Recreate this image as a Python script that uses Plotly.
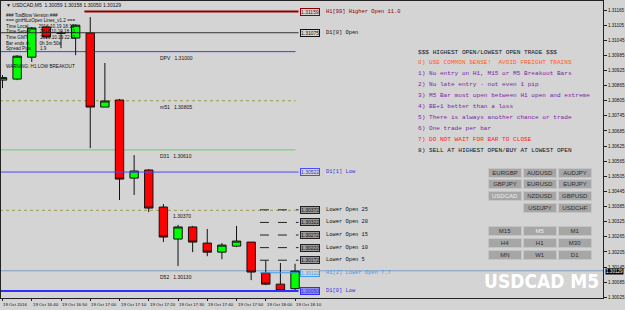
import plotly.graph_objects as go

# ---------------- data ----------------
bar_times = ["16:30", "16:35", "16:40", "16:45", "16:50", "16:55", "17:00", "17:05", "17:10", "17:15",
             "17:20", "17:25", "17:30", "17:35", "17:40", "17:45", "17:50", "17:55", "18:00", "18:05", "18:10"]
opens = [1.30887, 1.30891, 1.30978, 1.31098, 1.31074, 1.31054, 1.31074, 1.30780, 1.30808, 1.30498,
         1.30530, 1.30383, 1.30256, 1.30304, 1.30240, 1.30204, 1.30228, 1.30244, 1.30121, 1.30077, 1.30059]
highs = [1.30907, 1.30986, 1.31098, 1.31101, 1.31082, 1.31109, 1.31137, 1.30955, 1.30812, 1.30589,
         1.30534, 1.30395, 1.30312, 1.30308, 1.30296, 1.30240, 1.30308, 1.30244, 1.30172, 1.30161, 1.30158]
lows = [1.30855, 1.30887, 1.30959, 1.31054, 1.31014, 1.30986, 1.30617, 1.30780, 1.30411, 1.30431,
        1.30363, 1.30244, 1.30149, 1.30204, 1.30188, 1.30176, 1.30224, 1.30093, 1.30073, 1.30050, 1.30050]
closes = [1.30897, 1.30982, 1.31094, 1.31058, 1.31073, 1.31105, 1.30780, 1.30804, 1.30494, 1.30526,
          1.30379, 1.30264, 1.30304, 1.30244, 1.30204, 1.30232, 1.30248, 1.30125, 1.30077, 1.30052, 1.30129]

time_labels = ["19 Oct 2016", "19 Oct 16:40", "19 Oct 16:50", "19 Oct 17:00", "19 Oct 17:10", "19 Oct 17:20",
               "19 Oct 17:30", "19 Oct 17:40", "19 Oct 17:50", "19 Oct 18:00", "19 Oct 18:10"]

price_ticks = [1.31165 - 0.0006 * k for k in range(20)]

# level lines drawn by the HiLoOpen indicator
level_names = ["H1[99] Higher Open 11.0", "D1[0] Open", "D1[1] Low", "Lower Open 25", "Lower Open 20",
               "Lower Open 15", "Lower Open 10", "Lower Open 5", "H1[2] Lower Open 7.7", "D1[0] Low"]
level_prices = [1.31159, 1.31075, 1.30522, 1.30372, 1.30322, 1.30272, 1.30222, 1.30172, 1.30122, 1.30050]
level_start_bar = [5.6, -1, -1, 17.6, 17.6, 17.6, 17.6, 17.6, 17.6, -1]

# pivot lines
pivot_names = ["DPV", "m51", "D31", "", "D52"]
pivot_prices = [1.31000, 1.30805, 1.30610, 1.30370, 1.30130]
pivot_full_width = [False, False, False, False, True]

rules = ["$$$ HIGHEST OPEN/LOWEST OPEN TRADE $$$",
         "0) USE COMMON SENSE!  AVOID FREIGHT TRAINS",
         "1) No entry on H1, M15 or M5 Breakout Bars",
         "2) No late entry - not even 1 pip",
         "3) M5 Bar must open between H1 open and extreme",
         "4) BE+1 better than a loss",
         "5) There is always another chance or trade",
         "6) One trade per bar",
         "7) DO NOT WAIT FOR BAR TO CLOSE",
         "8) SELL AT HIGHEST OPEN/BUY AT LOWEST OPEN"]

info_lines = ["### TosBlow Version ###", "=== gmHiLoOpen Lines_v1.2 ===",
              "Time Local        2016.10.19 18:13", "Time Server       2016.10.19 18:11",
              "Time GMT          2016.10.19 22:11", "Bar ends in        0h 3m 50s", "Spread Pips       1.9"]

symbols = [["EURGBP", "AUDUSD", "AUDJPY"], ["GBPJPY", "EURUSD", "EURJPY"],
           ["USDCAD", "NZDUSD", "GBPUSD"], ["", "USDJPY", "USDCHF"]]
periods = [["M15", "M5", "M1"], ["H4", "H1", "M30"], ["MN", "W1", "D1"]]

# ---------------- layout helpers ----------------
W, H = 625, 310
PL, PR, PT, PB = 0, 605, 1, 298          # plot area in pixels
BAR = 14.7
X0 = 1.5
BG = "#d4d4d4"


def xi(px):          # pixel -> bar index
    return (px - X0) / BAR


def xp(px):          # pixel -> paper x
    return (px - PL) / (PR - PL)


def yp(py):          # pixel -> paper y
    return (PB - py) / (PB - PT)


idx = list(range(len(bar_times)))
ymin, ymax = 1.30022, 1.31201

fig = go.Figure()
fig.add_trace(go.Candlestick(
    x=idx, open=opens, high=highs, low=lows, close=closes,
    increasing=dict(fillcolor="#00ff00", line=dict(color="#111111", width=1)),
    decreasing=dict(fillcolor="#ff0000", line=dict(color="#111111", width=1)),
    whiskerwidth=0, showlegend=False, hoverinfo="skip"))

shapes = []
ann = []

# pivot lines
piv_style = [("#3c3cff", "solid", 1), ("#9a9a50", "dot", 1), ("#6ccf6c", "solid", 1),
             ("#9a9a50", "dot", 1), ("#7f9cc0", "solid", 1)]
for name, pr, full, st in zip(pivot_names, pivot_prices, pivot_full_width, piv_style):
    shapes.append(dict(type="line", xref="x", yref="y", x0=xi(-1), x1=xi(PR + 2 if full else 296),
                       y0=pr, y1=pr, line=dict(color=st[0], dash=st[1], width=st[2]), layer="below"))
    txt = (name + "   " if name else "") + "%.5f" % pr
    ann.append(dict(x=xi(158 if name else 171), y=pr, xref="x", yref="y", text=txt, showarrow=False,
                    xanchor="left", yanchor="top", yshift=-1,
                    font=dict(family="Liberation Sans", size=5, color="#111111")))

# indicator level lines
lvl_style = [("#8b0000", "solid", 2, "#8b0000", "#d4d4d4", "#8b0000"),
             ("#333333", "solid", 1, "#111111", "#d4d4d4", "#111111"),
             ("#4a4aff", "solid", 1, "#4a4aff", "#d4d4d4", "#3535d0"),
             ("#222222", "dash", 1, "#222222", "#9a9a9a", "#111111"),
             ("#222222", "dash", 1, "#222222", "#9a9a9a", "#111111"),
             ("#222222", "dash", 1, "#222222", "#9a9a9a", "#111111"),
             ("#222222", "dash", 1, "#222222", "#9a9a9a", "#111111"),
             ("#222222", "dash", 1, "#222222", "#9a9a9a", "#111111"),
             ("#3d9cf0", "solid", 1, "#3d9cf0", "#d4d4d4", "#3d9cf0"),
             ("#2f2fff", "solid", 2, "#2f2fff", "#8c8cf0", "#3030e0")]
for name, pr, sb, st in zip(level_names, level_prices, level_start_bar, lvl_style):
    shapes.append(dict(type="line", xref="x", yref="y", x0=sb, x1=xi(299), y0=pr, y1=pr,
                       line=dict(color=st[0], dash=st[1], width=st[2])))
    ann.append(dict(x=xi(300), y=pr, xref="x", yref="y", text="%.5f" % pr, showarrow=False,
                    xanchor="left", yanchor="middle", bgcolor=st[4], bordercolor=st[3], borderwidth=1,
                    borderpad=0, font=dict(family="Liberation Sans", size=5, color=st[5])))
    ann.append(dict(x=xi(325), y=pr, xref="x", yref="y", text=name, showarrow=False,
                    xanchor="left", yanchor="middle",
                    font=dict(family="Liberation Mono", size=5.4, color=st[5])))

# title / info text
ann.append(dict(x=xp(3), y=yp(5), xref="paper", yref="paper", showarrow=False, xanchor="left",
                yanchor="middle", text="\u25bc USDCAD,M5  %.5f %.5f %.5f %.5f" % (opens[-1], highs[-1], lows[-1], closes[-1]),
                font=dict(family="Liberation Sans", size=5, color="#111111")))
for k, line in enumerate(info_lines):
    ann.append(dict(x=xp(3), y=yp(15 + 5.6 * k), xref="paper", yref="paper", showarrow=False,
                    xanchor="left", yanchor="middle", text=line,
                    font=dict(family="Liberation Sans", size=4.6, color="#111111")))
ann.append(dict(x=xp(3), y=yp(66), xref="paper", yref="paper", showarrow=False, xanchor="left",
                yanchor="middle", text="WARNING: H1 LOW BREAKOUT",
                font=dict(family="Liberation Sans", size=4.6, color="#111111")))

rule_colors = ["#111111", "#ff5a28", "#7a1fa8", "#7a1fa8", "#7a1fa8", "#7a1fa8", "#7a1fa8", "#7a1fa8",
               "#ff2020", "#111111"]
for k, (line, c) in enumerate(zip(rules, rule_colors)):
    ann.append(dict(x=xp(417), y=yp(52 + 10.9 * k), xref="paper", yref="paper", showarrow=False,
                    xanchor="left", yanchor="middle", text=line,
                    font=dict(family="Liberation Mono", size=6.1, color=c)))

# buttons
col_x = [489, 525, 560]
sym_y = [172.5, 184, 196, 208]
per_y = [231, 243, 254.5]
for rows, ys, sel in ((symbols, sym_y, "USDCAD"), (periods, per_y, "M5")):
    for r, yy in zip(rows, ys):
        for lab, xx in zip(r, col_x):
            if not lab:
                continue
            ann.append(dict(x=xp(xx), y=yp(yy), xref="paper", yref="paper", showarrow=False,
                            xanchor="left", yanchor="middle", text=lab, width=32, height=8,
                            bgcolor="#a6a6a6", bordercolor="#c4c4c4", borderwidth=1, borderpad=0,
                            font=dict(family="Liberation Sans", size=6,
                                      color="#f0f0f0" if lab == sel else "#303030")))

# watermark
ann.append(dict(x=xp(543), y=yp(281), xref="paper", yref="paper", showarrow=False, xanchor="center",
                yanchor="middle", text="<b>USDCAD M5</b>",
                font=dict(family="DejaVu Sans Condensed", size=19, color="#ffffff")))

# x-axis labels (left aligned at bar position)
for k, lab in enumerate(time_labels):
    ann.append(dict(x=2 * k, y=0, xref="x", yref="paper", showarrow=False, xanchor="left",
                    yanchor="top", yshift=-2, text=lab, xshift=-1,
                    font=dict(family="Liberation Sans", size=4.4, color="#111111")))

# current price box on axis
ann.append(dict(x=1, y=closes[-1], xref="paper", yref="y", showarrow=False, xanchor="left",
                yanchor="middle", xshift=2, text="%.5f" % closes[-1], bgcolor="#000000",
                borderpad=0, font=dict(family="Liberation Sans", size=4.6, color="#ffffff")))

fig.update_layout(
    width=W, height=H, margin=dict(l=PL, r=W - PR, t=PT, b=H - PB),
    paper_bgcolor=BG, plot_bgcolor=BG, shapes=shapes, annotations=ann,
    boxgap=0.18, showlegend=False,
    xaxis=dict(range=[xi(PL), xi(PR)], rangeslider=dict(visible=False), showgrid=False, zeroline=False,
               tickvals=[2 * k for k in range(len(time_labels))], ticktext=[""] * len(time_labels),
               ticks="outside", ticklen=2, tickcolor="#222222", showline=True, linecolor="#222222",
               mirror=True, fixedrange=True),
    yaxis=dict(range=[ymin, ymax], side="right", showgrid=False, zeroline=False,
               tickvals=price_ticks, ticktext=["%.5f" % v for v in price_ticks],
               ticks="outside", ticklen=3, tickcolor="#222222", showline=True, linecolor="#222222",
               mirror=True, tickfont=dict(family="Liberation Sans", size=4.6, color="#111111"),
               fixedrange=True),
)

fig.write_html("out.html")
